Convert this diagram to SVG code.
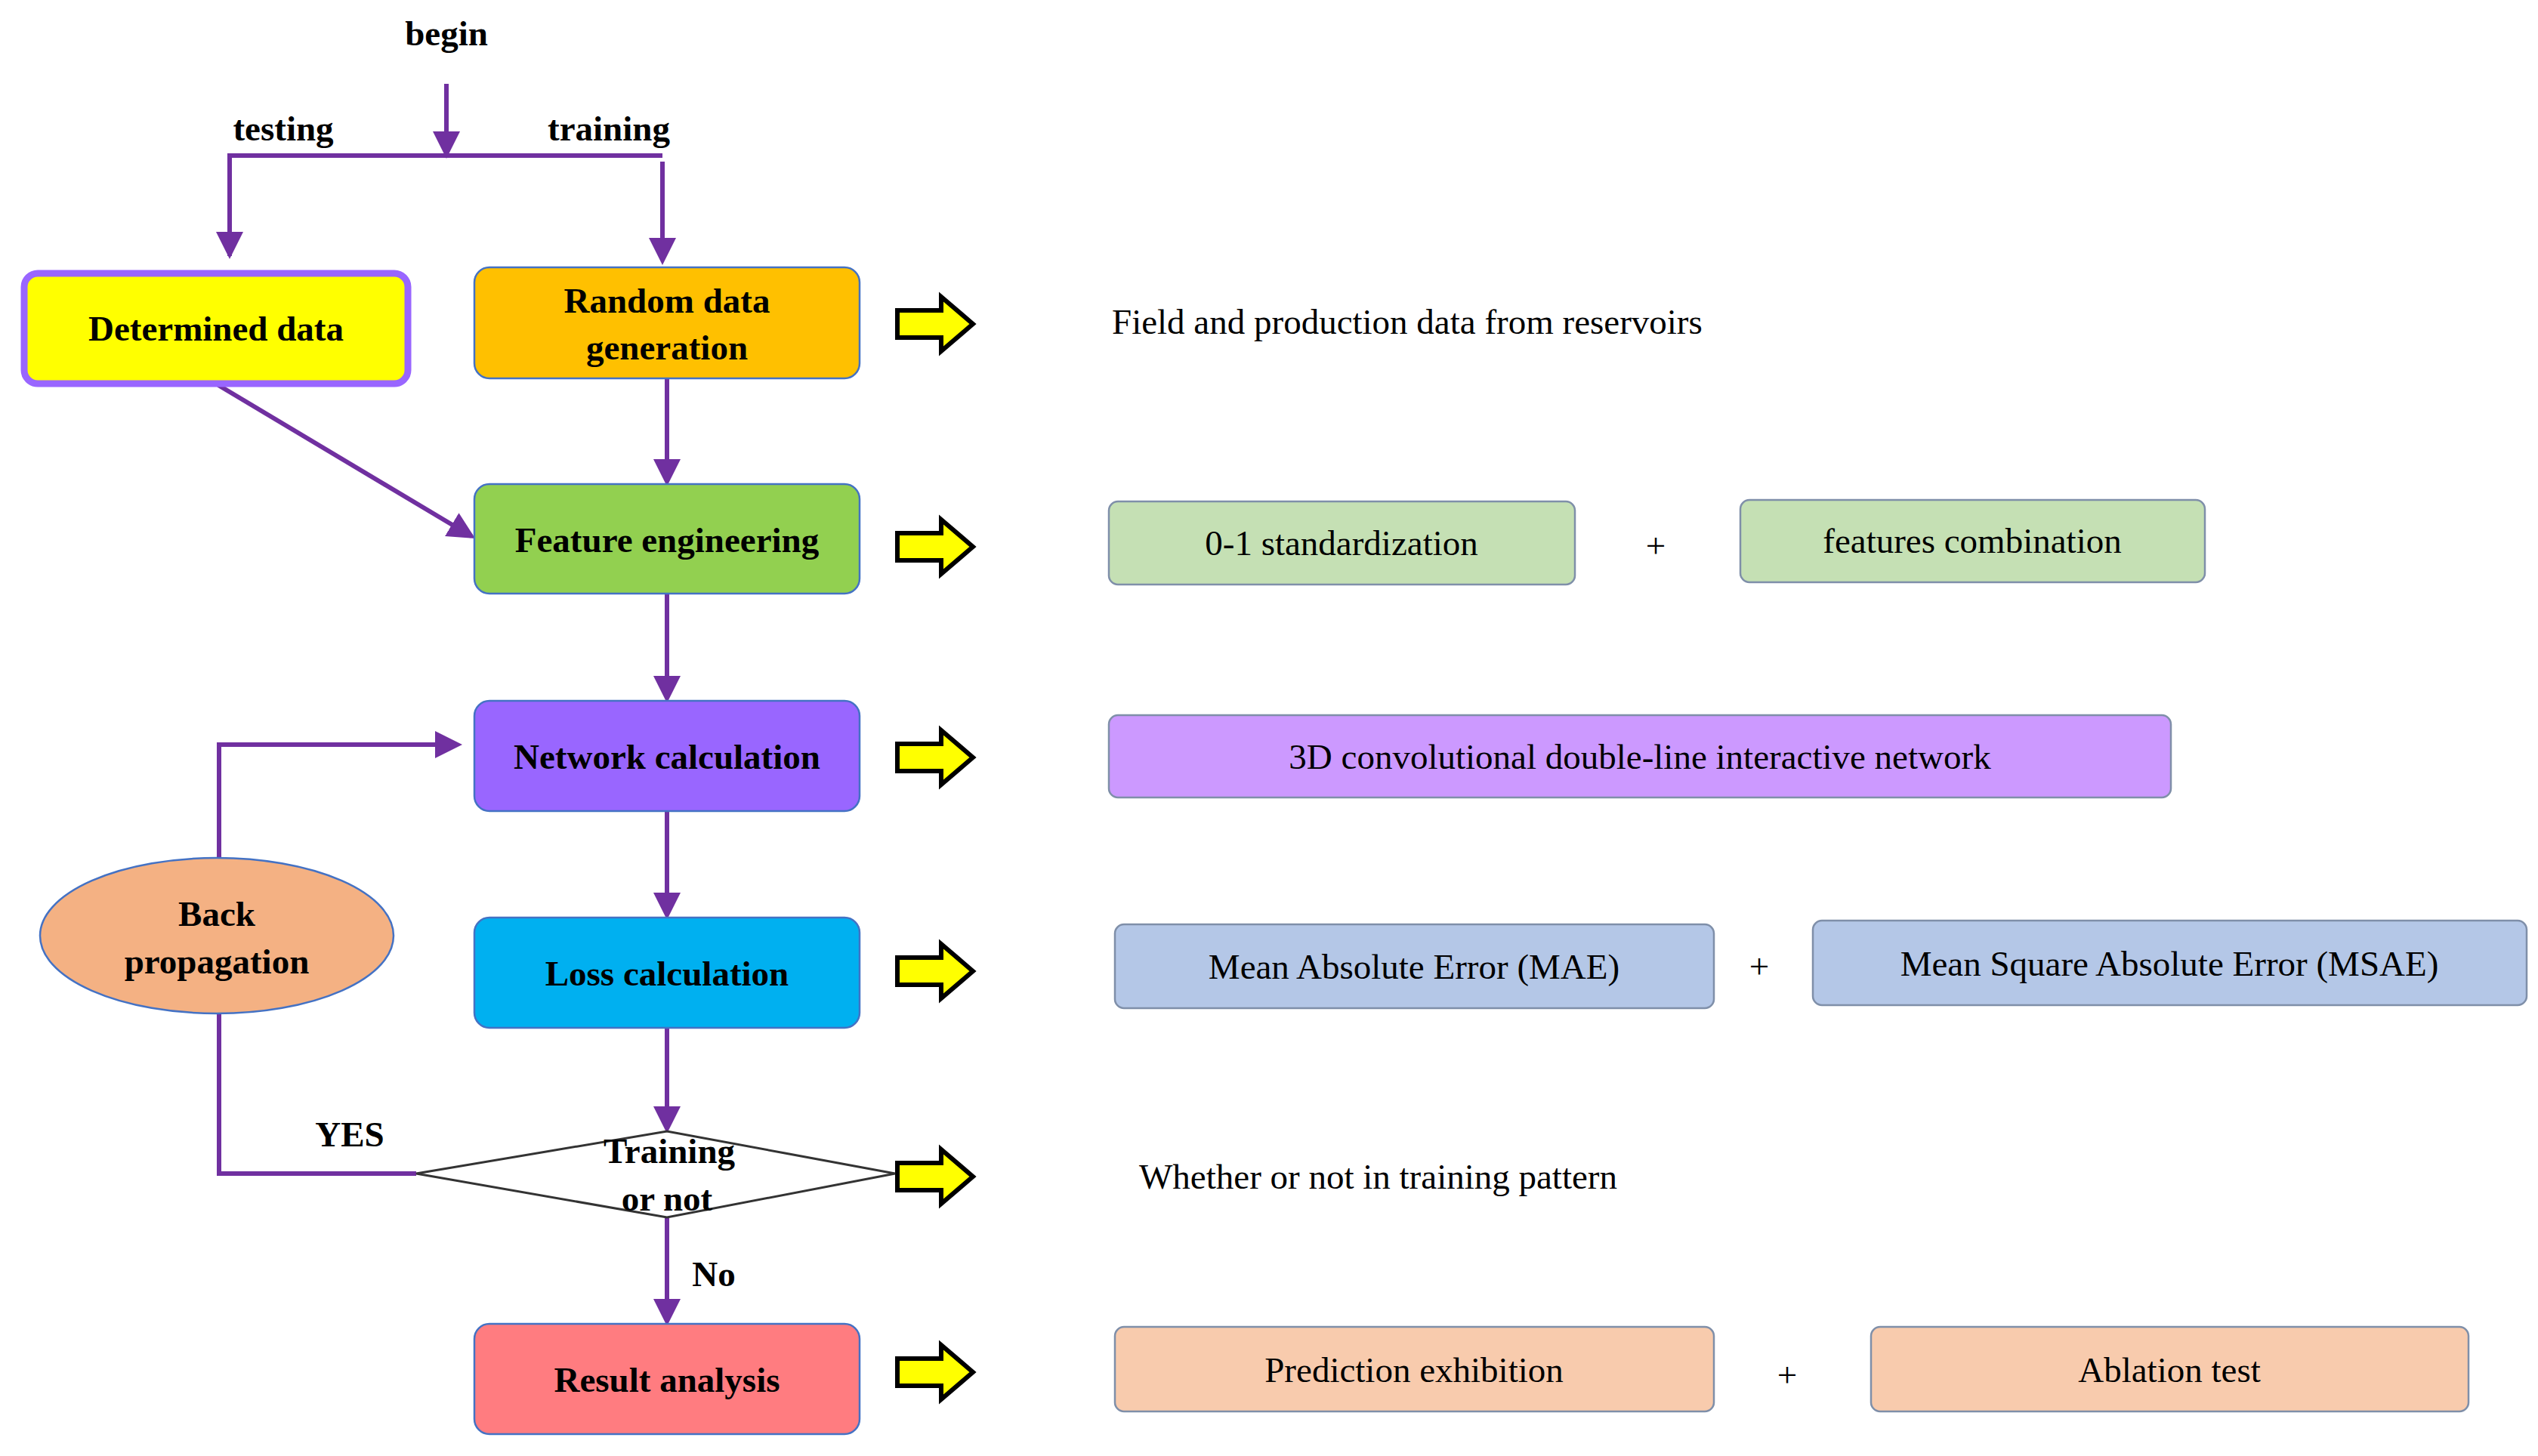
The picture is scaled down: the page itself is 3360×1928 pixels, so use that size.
<svg xmlns="http://www.w3.org/2000/svg" width="3360" height="1928" viewBox="0 0 3360 1928">
<defs>
<marker id="ah" markerWidth="6" markerHeight="6" refX="5" refY="3" orient="auto" markerUnits="strokeWidth"><path d="M0,0 L6,3 L0,6 Z" fill="#7030A0"/></marker>
<path id="ya" d="M0,-18 L58,-18 L58,-36 L100,0 L58,36 L58,18 L0,18 Z"/>
</defs>
<style>
.n{stroke:#4472C4;stroke-width:2.5}
.t{font-family:"Liberation Serif",serif;font-weight:bold;font-size:47px;text-anchor:middle;fill:#000}
.r{font-family:"Liberation Serif",serif;font-size:47px;fill:#000}
.rc{font-family:"Liberation Serif",serif;font-size:47px;text-anchor:middle;fill:#000}
.b{stroke:#7F8FA9;stroke-width:2.5}
.c{fill:none;stroke:#7030A0;stroke-width:6}
.y{fill:#FFFF00;stroke:#000;stroke-width:6}
</style>
<rect width="3360" height="1928" fill="#fff"/>
<g id="connectors">
<line class="c" x1="591" y1="111" x2="591" y2="204" marker-end="url(#ah)"/>
<polyline class="c" points="304,339 304,206 877,206"/>
<line class="c" x1="304" y1="260" x2="304" y2="337" marker-end="url(#ah)"/>
<line class="c" x1="877" y1="214" x2="877" y2="345" marker-end="url(#ah)"/>
<line class="c" x1="289" y1="510" x2="624" y2="710" marker-end="url(#ah)"/>
<line class="c" x1="883" y1="501" x2="883" y2="638" marker-end="url(#ah)"/>
<line class="c" x1="883" y1="786" x2="883" y2="925" marker-end="url(#ah)"/>
<line class="c" x1="883" y1="1074" x2="883" y2="1212" marker-end="url(#ah)"/>
<line class="c" x1="883" y1="1361" x2="883" y2="1495" marker-end="url(#ah)"/>
<line class="c" x1="883" y1="1612" x2="883" y2="1750" marker-end="url(#ah)"/>
<polyline class="c" points="551,1554 290,1554 290,1342"/>
<polyline class="c" points="290,1136 290,986 606,986" marker-end="url(#ah)"/>
<use href="#ya" class="y" x="1188" y="429"/>
<use href="#ya" class="y" x="1188" y="724"/>
<use href="#ya" class="y" x="1188" y="1003"/>
<use href="#ya" class="y" x="1188" y="1286"/>
<use href="#ya" class="y" x="1188" y="1558"/>
<use href="#ya" class="y" x="1188" y="1817"/>
</g>
<text class="t" x="591" y="60" font-size="60">begin</text>
<text class="t" x="375" y="186" font-size="50">testing</text>
<text class="t" x="806" y="186" font-size="50">training</text>
<text class="t" x="463" y="1518" font-size="60">YES</text>
<text class="t" x="945" y="1703" font-size="60">No</text>
<g id="determined"><rect x="32" y="362" width="508" height="146" rx="18" fill="#FFFF00" stroke="#9966FF" stroke-width="9"/><text class="t" x="286" y="451">Determined data</text></g>
<g id="random"><rect class="n" x="628" y="354" width="510" height="147" rx="20" fill="#FFC000"/><text class="t" x="883" y="414">Random data</text><text class="t" x="883" y="476">generation</text></g>
<g id="feature"><rect class="n" x="628" y="641" width="510" height="145" rx="20" fill="#92D050"/><text class="t" x="883" y="731">Feature engineering</text></g>
<g id="network"><rect class="n" x="628" y="928" width="510" height="146" rx="20" fill="#9966FF"/><text class="t" x="883" y="1018">Network calculation</text></g>
<g id="loss"><rect class="n" x="628" y="1215" width="510" height="146" rx="20" fill="#00B0F0"/><text class="t" x="883" y="1305">Loss calculation</text></g>
<g id="result"><rect class="n" x="628" y="1753" width="510" height="146" rx="20" fill="#FF7C80"/><text class="t" x="883" y="1843">Result analysis</text></g>
<g id="decision"><polygon points="551,1554 883,1498 1185,1554 883,1612" fill="#fff" stroke="#333" stroke-width="3"/><text class="t" x="886" y="1540">Training</text><text class="t" x="883" y="1603">or not</text></g>
<g id="backprop"><ellipse cx="287" cy="1239" rx="234" ry="103" fill="#F4B183" stroke="#4472C4" stroke-width="2.5"/><text class="t" x="287" y="1226">Back</text><text class="t" x="287" y="1289">propagation</text></g>
<text class="r" x="1472" y="442">Field and production data from reservoirs</text>
<g id="std"><rect class="b" x="1468" y="664" width="617" height="110" rx="12" fill="#C5E0B4"/><text class="rc" x="1776" y="735">0-1 standardization</text></g>
<text class="rc" x="2192" y="738" font-size="56">+</text>
<g id="comb"><rect class="b" x="2304" y="662" width="615" height="109" rx="12" fill="#C5E0B4"/><text class="rc" x="2611" y="732">features combination</text></g>
<g id="conv"><rect class="b" x="1468" y="947" width="1406" height="109" rx="12" fill="#CC99FF"/><text class="rc" x="2171" y="1018">3D convolutional double-line interactive network</text></g>
<g id="mae"><rect class="b" x="1476" y="1224" width="793" height="111" rx="12" fill="#B4C7E7"/><text class="rc" x="1872" y="1296">Mean Absolute Error (MAE)</text></g>
<text class="rc" x="2329" y="1295" font-size="56">+</text>
<g id="msae"><rect class="b" x="2400" y="1219" width="945" height="112" rx="12" fill="#B4C7E7"/><text class="rc" x="2872" y="1292">Mean Square Absolute Error (MSAE)</text></g>
<text class="r" x="1508" y="1574">Whether or not in training pattern</text>
<g id="pred"><rect class="b" x="1476" y="1757" width="793" height="112" rx="12" fill="#F8CBAD"/><text class="rc" x="1872" y="1830">Prediction exhibition</text></g>
<text class="rc" x="2366" y="1836" font-size="56">+</text>
<g id="abl"><rect class="b" x="2477" y="1757" width="791" height="112" rx="12" fill="#F8CBAD"/><text class="rc" x="2872" y="1830">Ablation test</text></g>
</svg>
